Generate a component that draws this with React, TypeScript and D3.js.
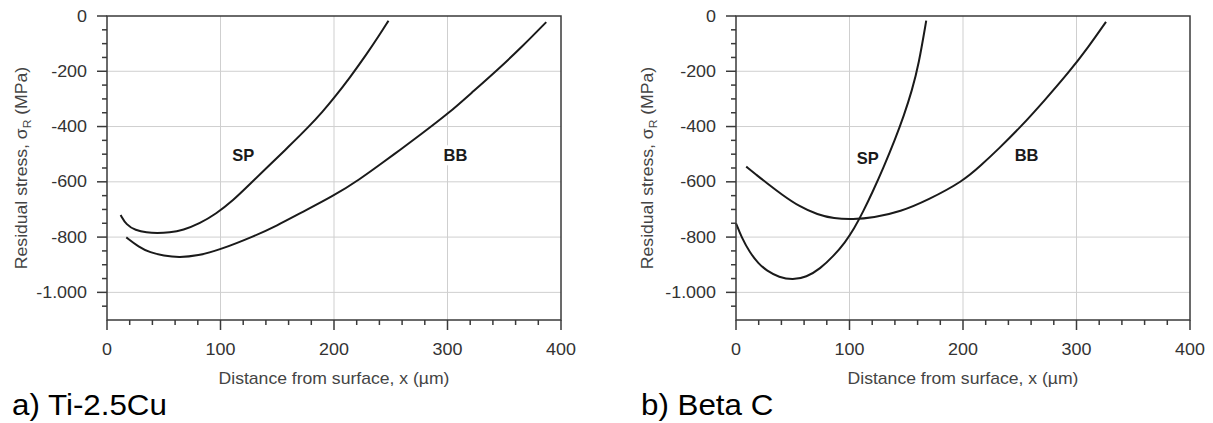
import React from "react";
import * as d3 from "d3";

// ---- Data ----
const xTicks = [0, 100, 200, 300, 400];
const yTicks = [0, -200, -400, -600, -800, -1000];
const yTickLabels = ["0", "-200", "-400", "-600", "-800", "-1.000"];

const tiSpX = [12, 17, 25, 35, 44, 55, 67, 82, 96, 111, 126, 141, 160, 178, 190, 200, 214, 229, 240, 248];
const tiSpY = [-720, -756, -775, -784, -786, -784, -775, -750, -716, -668, -608, -548, -473, -400, -346, -297, -223, -137, -69, -17];
const tiBbX = [17, 28, 38, 50, 63, 80, 100, 129, 150, 170, 200, 222, 244, 258, 276, 301, 322, 344, 366, 387];
const tiBbY = [-801, -836, -856, -867, -874, -868, -845, -798, -758, -714, -650, -593, -527, -485, -430, -352, -275, -195, -110, -22];

const beSpX = [0, 5, 12, 20, 27, 38, 50, 62, 74, 86, 96, 104, 112, 120, 130, 140, 148, 155, 161, 167.6];
const beSpY = [-750, -802, -855, -897, -921, -946, -955, -945, -915, -868, -820, -770, -708, -640, -548, -448, -360, -270, -175, -17];
const beBbX = [9, 18, 27, 40, 56, 72, 86, 103, 121, 145, 169, 200, 216, 232, 250, 272, 294, 310, 326];
const beBbY = [-545, -575, -604, -645, -690, -719, -733, -736, -730, -708, -666, -598, -540, -478, -405, -305, -200, -115, -21];

const panelTitles = ["a) Ti-2.5Cu", "b) Beta C"];
const xTitle = "Distance from surface, x (µm)";

type Series = { name: string; xs: number[]; ys: number[]; lx: number; ly: number };

const FONT = "'Liberation Sans', Arial, Helvetica, sans-serif";

function Panel(props: {
  left: number;
  right: number;
  yTitleX: number;
  title: string;
  series: Series[];
}) {
  const { left, right, yTitleX, title, series } = props;
  const top = 16;
  const bottom = 320;
  const x = d3.scaleLinear().domain([0, 400]).range([left, right]);
  const y = d3.scaleLinear().domain([-1100, 0]).range([bottom, top]);
  const line = d3
    .line<[number, number]>()
    .x((d) => x(d[0]))
    .y((d) => y(d[1]))
    .curve(d3.curveBasis);
  const xMinor = d3.range(20, 400, 20).filter((v) => v % 100 !== 0);
  const yMinor = d3.range(-1050, 0, 50).filter((v) => v % 200 !== 0);
  const axisColor = "#3a3a3a";
  const gridColor = "#cfcfcf";
  const cx = (left + right) / 2;
  const cy = (top + bottom) / 2;
  return (
    <g>
      {/* grid */}
      {xTicks
        .filter((v) => v > 0 && v < 400)
        .map((v) => (
          <line key={"gx" + v} x1={x(v)} x2={x(v)} y1={top} y2={bottom} stroke={gridColor} strokeWidth={1} />
        ))}
      {yTicks
        .filter((v) => v < 0)
        .map((v) => (
          <line key={"gy" + v} x1={left} x2={right} y1={y(v)} y2={y(v)} stroke={gridColor} strokeWidth={1} />
        ))}
      {/* labels with white background */}
      {series.map((s) => (
        <g key={"lab" + s.name}>
          <rect x={x(s.lx) - 16} y={y(s.ly) - 10} width={32} height={20} fill="#fff" />
          <text
            x={x(s.lx)}
            y={y(s.ly) + 6}
            textAnchor="middle"
            fontFamily={FONT}
            fontWeight="bold"
            fontSize={16.5}
            fill="#1a1a1a"
          >
            {s.name}
          </text>
        </g>
      ))}
      {/* curves */}
      {series.map((s) => (
        <path
          key={"c" + s.name}
          d={line(s.xs.map((v, i) => [v, s.ys[i]] as [number, number])) || ""}
          fill="none"
          stroke="#1a1a1a"
          strokeWidth={2}
        />
      ))}
      {/* frame */}
      <rect x={left} y={top} width={right - left} height={bottom - top} fill="none" stroke={axisColor} strokeWidth={1.5} />
      {/* x ticks */}
      {xTicks.map((v) => (
        <line key={"xt" + v} x1={x(v)} x2={x(v)} y1={bottom} y2={bottom + 10} stroke={axisColor} strokeWidth={1.5} />
      ))}
      {xMinor.map((v) => (
        <line key={"xm" + v} x1={x(v)} x2={x(v)} y1={bottom} y2={bottom + 5} stroke={axisColor} strokeWidth={1.5} />
      ))}
      {/* y ticks */}
      {yTicks.map((v) => (
        <line key={"yt" + v} x1={left - 10} x2={left} y1={y(v)} y2={y(v)} stroke={axisColor} strokeWidth={1.5} />
      ))}
      {yMinor.map((v) => (
        <line key={"ym" + v} x1={left - 5} x2={left} y1={y(v)} y2={y(v)} stroke={axisColor} strokeWidth={1.5} />
      ))}
      {/* tick labels */}
      {xTicks.map((v) => (
        <text
          key={"xl" + v}
          transform={`translate(${x(v)},${355}) scale(1.12,1)`}
          textAnchor="middle"
          fontFamily={FONT}
          fontSize={16}
          fill="#333"
        >
          {String(v)}
        </text>
      ))}
      {yTicks.map((v, i) => (
        <text
          key={"yl" + v}
          transform={`translate(${left - 20},${y(v) + 5.6}) scale(1.12,1)`}
          textAnchor="end"
          fontFamily={FONT}
          fontSize={16}
          fill="#333"
        >
          {yTickLabels[i]}
        </text>
      ))}
      {/* axis titles */}
      <text
        transform={`translate(${cx},384) scale(1.1,1)`}
        textAnchor="middle"
        fontFamily={FONT}
        fontSize={16}
        fill="#444"
      >
        {xTitle}
      </text>
      <text
        transform={`translate(${yTitleX},${cy}) rotate(-90) scale(1.1,1)`}
        textAnchor="middle"
        fontFamily={FONT}
        fontSize={16}
        fill="#444"
      >
        Residual stress, σ<tspan fontSize={11} dy={4}>R</tspan>
        <tspan dy={-4}> (MPa)</tspan>
      </text>
      {/* panel title */}
      <text
        transform={`translate(${left - 95},415) scale(1.08,1)`}
        fontFamily={FONT}
        fontSize={29}
        fill="#000"
      >
        {title}
      </text>
    </g>
  );
}

export default function App() {
  const tiSeries: Series[] = [
    { name: "SP", xs: tiSpX, ys: tiSpY, lx: 120, ly: -504 },
    { name: "BB", xs: tiBbX, ys: tiBbY, lx: 307, ly: -504 },
  ];
  const beSeries: Series[] = [
    { name: "SP", xs: beSpX, ys: beSpY, lx: 116, ly: -515 },
    { name: "BB", xs: beBbX, ys: beBbY, lx: 256, ly: -504 },
  ];
  return (
    <svg
      width={1213}
      height={423}
      viewBox="0 0 1213 423"
      style={{ position: "absolute", left: 0, top: 0, background: "#fff" }}
    >
      <rect x={0} y={0} width={1213} height={423} fill="#fff" />
      <Panel left={107} right={561} yTitleX={27} title={panelTitles[0]} series={tiSeries} />
      <Panel left={736} right={1190} yTitleX={653} title={panelTitles[1]} series={beSeries} />
    </svg>
  );
}
